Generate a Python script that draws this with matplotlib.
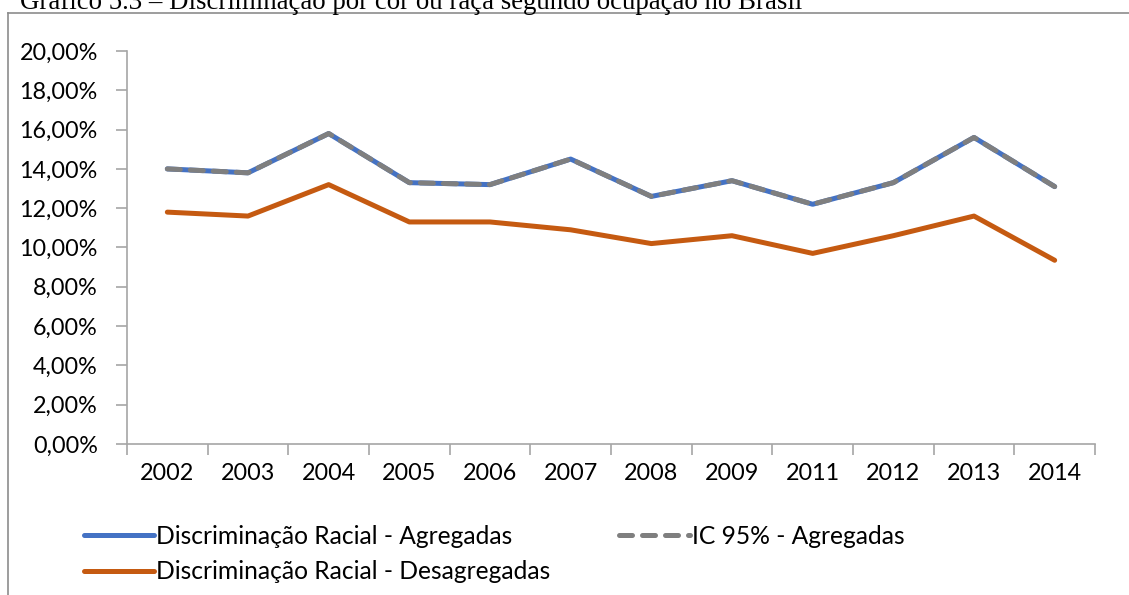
import matplotlib
matplotlib.use("Agg")
import matplotlib.pyplot as plt
from matplotlib.lines import Line2D
from matplotlib.ticker import FuncFormatter, FixedLocator
import numpy as np

# Séries (em %)
anos = ["2002", "2003", "2004", "2005", "2006", "2007", "2008", "2009", "2011", "2012", "2013", "2014"]
agregadas = [14.0, 13.8, 15.8, 13.3, 13.2, 14.5, 12.6, 13.4, 12.2, 13.3, 15.6, 13.1]
ic95_agregadas = [14.0, 13.8, 15.8, 13.3, 13.2, 14.5, 12.6, 13.4, 12.2, 13.3, 15.6, 13.1]
desagregadas = [11.8, 11.6, 13.2, 11.3, 11.3, 10.9, 10.2, 10.6, 9.7, 10.6, 11.6, 9.35]

titulo = "Gráfico 5.3 – Discriminação por cor ou raça segundo ocupação no Brasil"

plt.rcParams["font.family"] = ["Lato", "DejaVu Sans"]
FS = 16.8
FS_LEG = 17.7
CINZA = "#A6A6A6"

fig = plt.figure(figsize=(11.29, 5.95), dpi=100)
ax = fig.add_axes([127 / 1129, 1 - 444 / 595, (1095 - 127) / 1129, (444 - 51) / 595])

x = np.arange(len(anos))
l1, = ax.plot(x, agregadas, color="#4472C4", lw=3.6, solid_capstyle="round",
              solid_joinstyle="round", label="Discriminação Racial - Agregadas")
l3, = ax.plot(x, ic95_agregadas, color="#7F7F7F", lw=3.6, dashes=(2.6, 2.0),
              dash_capstyle="round", solid_joinstyle="round", label="IC 95% - Agregadas")
l2, = ax.plot(x, desagregadas, color="#C55A11", lw=3.6, solid_capstyle="round",
              solid_joinstyle="round", label="Discriminação Racial - Desagregadas")

ax.set_xlim(-0.5, len(anos) - 0.5)
ax.set_ylim(0, 20)
ax.set_yticks(np.arange(0, 20.1, 2))
ax.yaxis.set_major_formatter(FuncFormatter(lambda v, p: f"{v:.2f}%".replace(".", ",")))

ax.set_xticks(x)
ax.set_xticklabels(anos)
ax.xaxis.set_minor_locator(FixedLocator(np.arange(-0.5, len(anos), 1)))
ax.tick_params(axis="x", which="major", length=0, pad=14, labelsize=FS)
ax.tick_params(axis="x", which="minor", length=8, width=1.2, color=CINZA)
ax.tick_params(axis="y", length=8, width=1.2, color=CINZA, pad=13, labelsize=FS)

for s in ["top", "right"]:
    ax.spines[s].set_visible(False)
for s in ["left", "bottom"]:
    ax.spines[s].set_color(CINZA)
    ax.spines[s].set_linewidth(1.2)

leg = fig.legend(handles=[l1, l2, l3], ncol=2, frameon=False, fontsize=FS_LEG,
                 loc="upper left", bbox_to_anchor=(74 / 1129, 1 - 515 / 595),
                 handlelength=2.85, handletextpad=0.1, labelspacing=0.5,
                 columnspacing=2.8, borderaxespad=0)

# moldura do gráfico
fig.add_artist(Line2D([8 / 1129, 8 / 1129], [0, 1 - 13 / 595], color="#8C8C8C", lw=1.2,
                      transform=fig.transFigure))
fig.add_artist(Line2D([8 / 1129, 1], [1 - 13 / 595, 1 - 13 / 595], color="#8C8C8C", lw=1.2,
                      transform=fig.transFigure))

fig.text(20 / 1129, 1 - 9 / 595, titulo, family="Liberation Serif", fontsize=19.4,
         va="baseline", ha="left")

fig.savefig("out.png", dpi=100)
